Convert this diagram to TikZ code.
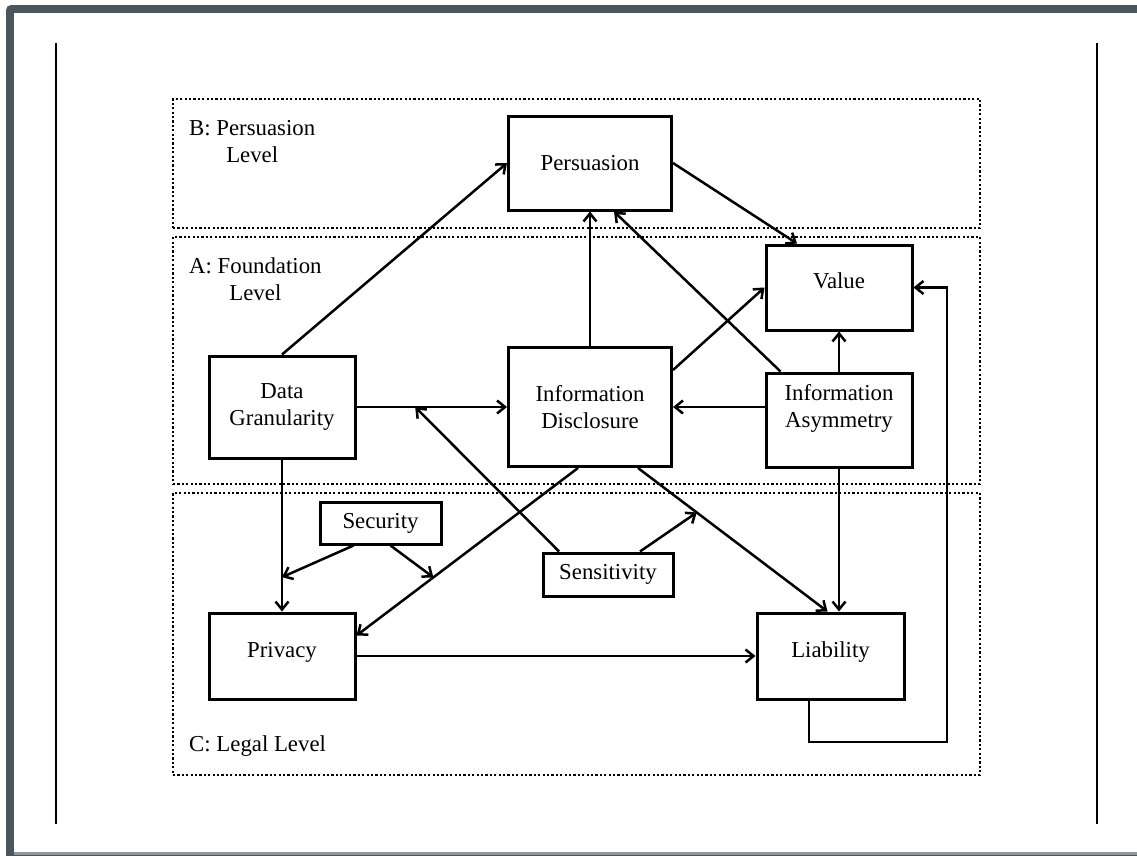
\documentclass[tikz,border=0pt]{standalone}
\usepackage{fontspec}
\setmainfont{Liberation Serif}
\usepackage{tikz}
\usepackage{xcolor}
\usetikzlibrary{arrows.meta,calc}
\definecolor{framegray}{HTML}{4A565C}
\definecolor{rulegray}{HTML}{8C979B}

\begin{document}
\begin{tikzpicture}[x=1pt, y=-1pt,
  font=\fontsize{22.8}{27}\selectfont,
  box/.style={draw, line width=3pt, align=center, inner sep=0pt},
  level/.style={draw, line width=2.4pt, dash pattern=on 2.2pt off 2.2pt, inner sep=0pt, minimum width=807pt},
  tag/.style={anchor=north west, align=center, inner sep=0pt},
  arrow/.style={-{Straight Barb[length=8pt, width=13pt]}, line width=2.5pt}
]
% page frame
\useasboundingbox (0,0) rectangle (1137,855);
\fill[white] (0,0) rectangle (1137,855);
\fill[framegray, rounded corners=5pt] (6,5) rectangle (1160,880);
\fill[white] (14,13) rectangle (1137,852);
\fill[rulegray] (14,852) rectangle (1137,855);
\draw[line width=1.6pt] (56,43) -- (56,824);
\draw[line width=1.6pt] (1097,43) -- (1097,824);

% levels
\node[level, minimum height=129pt] (levB) at (576.5,163.5) {};
\node[level, minimum height=247pt] (levA) at (576.5,360.5) {};
\node[level, minimum height=282pt] (levC) at (576.5,634) {};
\node[tag] (tagB) at (189,120) {B: Persuasion\\Level};
\node[tag] (tagA) at (189,257) {A: Foundation\\Level};
\node[tag] (tagC) at (189,735) {C: Legal Level};

% constructs
\node[box, minimum width=163pt, minimum height=94pt] (pers) at (590,163) {Persuasion};
\node[box, minimum width=146pt, minimum height=85pt, text height=15.5pt, text depth=13pt] (value) at (839,287.5) {Value};
\node[box, minimum width=146pt, minimum height=102pt] (gran) at (282,407) {Data\\Granularity};
\node[box, minimum width=163pt, minimum height=119pt] (disc) at (590,407) {Information\\Disclosure};
\node[box, minimum width=146pt, minimum height=94pt, text height=42.5pt, text depth=28.5pt] (asym) at (839,420) {Information\\Asymmetry};
\node[box, minimum width=121pt, minimum height=42pt] (sec) at (380.5,523) {Security};
\node[box, minimum width=130pt, minimum height=43pt] (sens) at (608,574.5) {Sensitivity};
\node[box, minimum width=146pt, minimum height=86pt, text height=15.5pt, text depth=13pt] (priv) at (282,656) {Privacy};
\node[box, minimum width=147pt, minimum height=86pt, text height=15.5pt, text depth=13pt] (liab) at (830.5,656) {Liability};

% helper points
\coordinate (loop) at (947,742);
\coordinate (dl1) at ([xshift=48]disc.south);
\coordinate (dl2) at ([xshift=-3]liab.north);
\coordinate (dp1) at ([xshift=-12]disc.south);
\coordinate (dp2) at ([yshift=-24]priv.north east);
\coordinate (gd) at ($(gran.east)!0.39!(disc.west)$);
\coordinate (dlm) at ($(dl1)!0.31!(dl2)$);
\coordinate (gp) at ($(gran.south)!0.774!(priv.north)$);
\coordinate (dpm) at ($(dp1)!0.653!(dp2)$);

% relations
\draw[arrow] (gran.north) -- (pers.west);
\draw[arrow] (pers.east) -- ([xshift=-42]value.north);
\draw[arrow] (disc.north) -- (pers.south);
\draw[arrow] ([xshift=16]asym.north west) -- ([xshift=24]pers.south);
\draw[arrow] ([yshift=-24]disc.north east) -- (value.west);
\draw[arrow] (asym.north) -- (value.south);
\draw[arrow] (gran.east) -- (disc.west);
\draw[arrow] ([yshift=13]asym.west) -- (disc.east);
\draw[arrow] ([xshift=-49]sens.north) -- (gd);
\draw[arrow] (dl1) -- (dl2);
\draw[arrow] ([xshift=32]sens.north) -- (dlm);
\draw[arrow] (gran.south) -- (priv.north);
\draw[arrow] ([xshift=-27]sec.south) -- (gp);
\draw[arrow] ([xshift=10]sec.south) -- (dpm);
\draw[arrow] (dp1) -- (dp2);
\draw[arrow] (asym.south) -- (asym.south |- liab.north);
\draw[arrow] (priv.east) -- (liab.west);
\draw[arrow] ([xshift=-21.5]liab.south) |- (loop) |- (value.east);
\end{tikzpicture}
\end{document}
